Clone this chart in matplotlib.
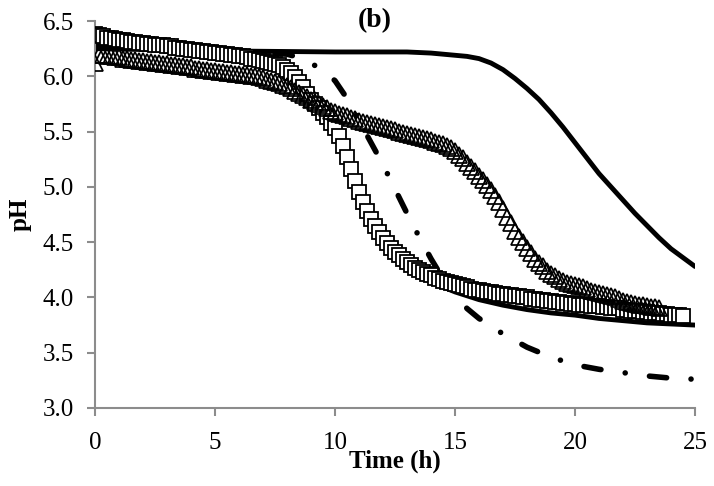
import numpy as np
import matplotlib
matplotlib.use("Agg")
import matplotlib.pyplot as plt

plt.rcParams['font.family'] = ['Liberation Serif', 'DejaVu Serif']

# Observed data (sampled every 10 min = 1/6 h)
ph_square = [
    6.38, 6.37, 6.36, 6.35, 6.35, 6.34,
    6.33, 6.33, 6.32, 6.31, 6.31, 6.30,
    6.30, 6.29, 6.29, 6.28, 6.28, 6.28,
    6.27, 6.27, 6.26, 6.26, 6.25, 6.25,
    6.24, 6.24, 6.23, 6.23, 6.22, 6.22,
    6.21, 6.21, 6.20, 6.20, 6.19, 6.19,
    6.18, 6.18, 6.17, 6.16, 6.16, 6.15,
    6.14, 6.13, 6.12, 6.11, 6.10, 6.08,
    6.06, 6.03, 5.99, 5.95, 5.90, 5.84,
    5.79, 5.75, 5.71, 5.67, 5.63, 5.58,
    5.53, 5.46, 5.37, 5.27, 5.16, 5.05,
    4.95, 4.86, 4.78, 4.71, 4.65, 4.59,
    4.54, 4.49, 4.45, 4.41, 4.38, 4.35,
    4.32, 4.29, 4.27, 4.25, 4.23, 4.21,
    4.20, 4.18, 4.17, 4.15, 4.14, 4.13,
    4.12, 4.11, 4.10, 4.09, 4.08, 4.07,
    4.07, 4.06, 4.05, 4.05, 4.04, 4.03,
    4.03, 4.02, 4.02, 4.01, 4.01, 4.00,
    4.00, 3.99, 3.99, 3.98, 3.98, 3.97,
    3.97, 3.96, 3.96, 3.95, 3.95, 3.94,
    3.94, 3.93, 3.93, 3.93, 3.92, 3.92,
    3.92, 3.91, 3.91, 3.90, 3.90, 3.90,
    3.89, 3.89, 3.88, 3.88, 3.88, 3.87,
    3.87, 3.86, 3.86, 3.86, 3.85, 3.85,
    3.84, 3.84, 3.84, 3.83,
]

ph_triangle = [
    6.12, 6.19, 6.19, 6.18, 6.18, 6.17,
    6.17, 6.16, 6.16, 6.15, 6.15, 6.14,
    6.14, 6.13, 6.13, 6.12, 6.12, 6.11,
    6.11, 6.10, 6.10, 6.09, 6.09, 6.08,
    6.08, 6.07, 6.07, 6.06, 6.06, 6.05,
    6.05, 6.04, 6.04, 6.03, 6.03, 6.02,
    6.02, 6.01, 6.01, 6.00, 6.00, 5.99,
    5.98, 5.97, 5.96, 5.95, 5.94, 5.92,
    5.91, 5.89, 5.87, 5.85, 5.83, 5.81,
    5.79, 5.77, 5.75, 5.73, 5.71, 5.69,
    5.68, 5.66, 5.65, 5.64, 5.62, 5.61,
    5.60, 5.59, 5.58, 5.57, 5.56, 5.55,
    5.54, 5.53, 5.52, 5.51, 5.50, 5.49,
    5.48, 5.47, 5.46, 5.45, 5.44, 5.43,
    5.42, 5.41, 5.40, 5.39, 5.37, 5.35,
    5.32, 5.29, 5.26, 5.22, 5.18, 5.14,
    5.10, 5.06, 5.02, 4.97, 4.92, 4.86,
    4.80, 4.73, 4.67, 4.60, 4.55, 4.50,
    4.45, 4.40, 4.35, 4.31, 4.28, 4.24,
    4.21, 4.19, 4.17, 4.15, 4.13, 4.12,
    4.11, 4.10, 4.09, 4.08, 4.06, 4.05,
    4.04, 4.03, 4.02, 4.01, 4.00, 3.99,
    3.97, 3.96, 3.95, 3.94, 3.93, 3.93,
    3.92, 3.91, 3.91, 3.90,
]

# Model curves
t_model_late = [0, 5, 10, 13, 14, 15, 15.5, 16, 16.5, 17, 17.5, 18, 18.5, 19, 19.5,
                20, 20.5, 21, 21.5, 22, 22.5, 23, 23.5, 24, 24.5, 25]
ph_model_late = [6.25, 6.23, 6.22, 6.22, 6.21, 6.19, 6.18, 6.16, 6.12, 6.06, 5.98, 5.89,
                 5.79, 5.67, 5.54, 5.40, 5.26, 5.12, 5.00, 4.88, 4.76, 4.65, 4.54,
                 4.44, 4.36, 4.28]

t_model_square = [0, 5, 8, 8.5, 9, 9.5, 10, 10.5, 11, 11.5, 12, 12.5, 13, 13.5, 14,
                  15, 16, 17, 18, 19, 20, 21, 22, 23, 24, 25]
ph_model_square = [6.28, 6.20, 6.08, 6.00, 5.88, 5.72, 5.50, 5.22, 4.92, 4.68, 4.50,
                   4.38, 4.28, 4.20, 4.14, 4.05, 3.98, 3.93, 3.89, 3.86, 3.84, 3.81,
                   3.79, 3.77, 3.76, 3.75]

t_model_dash = [0, 5, 8, 8.5, 9, 9.5, 10, 10.5, 11, 11.5, 12, 12.5, 13, 13.5, 14, 14.5,
                15, 15.5, 16, 17, 18, 19, 20, 21, 22, 23, 24, 25]
ph_model_dash = [6.26, 6.23, 6.20, 6.17, 6.12, 6.05, 5.96, 5.80, 5.60, 5.40, 5.20,
                 4.98, 4.76, 4.55, 4.35, 4.17, 4.02, 3.90, 3.81, 3.67, 3.55, 3.46,
                 3.39, 3.35, 3.32, 3.29, 3.27, 3.26]

x_ticks = [0, 5, 10, 15, 20, 25]
y_ticks = [3.0, 3.5, 4.0, 4.5, 5.0, 5.5, 6.0, 6.5]

t_square = np.arange(len(ph_square)) / 6.0
t_triangle = np.arange(len(ph_triangle)) / 6.0

fig = plt.figure(figsize=(7.14, 4.86), dpi=100)
ax = fig.add_axes([95 / 714, 1 - 408 / 486, 600 / 714, 387 / 486])
ax.set_xlim(0, 25)
ax.set_ylim(3.0, 6.5)

ax.plot(t_model_late, ph_model_late, color='black', lw=3.5, solid_capstyle='round',
        zorder=2)
ax.plot(t_model_square, ph_model_square, color='black', lw=3.5,
        solid_capstyle='round', zorder=2)

# dash-dot line: align the pattern phase so a dot falls near t = 16.9 h
dash_lw = 4.0
pattern = (3.1, 4.4, 0.01, 4.4)
period = sum(pattern)
pts = ax.transData.transform(np.column_stack([t_model_dash, ph_model_dash]))
seg = np.hypot(np.diff(pts[:, 0]), np.diff(pts[:, 1]))
cum = np.concatenate([[0], np.cumsum(seg)])
s_target_px = np.interp(16.9, t_model_dash, cum)
s_target = s_target_px * 72 / fig.dpi / dash_lw
dot_phase = pattern[0] + pattern[1] + 0.005
offset = (dot_phase - s_target) % period
ax.plot(t_model_dash, ph_model_dash, color='black', lw=dash_lw,
        linestyle=(offset, pattern), dash_capstyle='round', zorder=2.5)

ax.plot(t_square, ph_square, linestyle='none', marker='s', markersize=10.3,
        markerfacecolor='white', markeredgecolor='black', markeredgewidth=1.3,
        zorder=3)
ax.plot(t_triangle, ph_triangle, linestyle='none', marker='^', markersize=11,
        markerfacecolor='none', markeredgecolor='black', markeredgewidth=1.25,
        zorder=4)

ax.set_xticks(x_ticks)
ax.set_yticks(y_ticks)
ax.set_xticklabels([str(v) for v in x_ticks])
ax.set_yticklabels([f"{v:.1f}" for v in y_ticks])

for s in ['top', 'right']:
    ax.spines[s].set_visible(False)
for s in ['left', 'bottom']:
    ax.spines[s].set_color('#8c8c8c')
    ax.spines[s].set_linewidth(1.5)
ax.tick_params(axis='both', direction='out', length=6, width=1.5, color='#8c8c8c',
               labelsize=18, labelcolor='black')
ax.tick_params(axis='y', pad=9)
ax.tick_params(axis='x', pad=11)

ax.set_xlabel('Time (h)', fontsize=18, fontweight='bold', labelpad=-3)
ax.set_ylabel('pH', fontsize=18, fontweight='bold', labelpad=8)
ax.text(0.467, 1.0, '(b)', transform=ax.transAxes, ha='center', va='center',
        fontsize=20, fontweight='bold')

fig.savefig('out.png', dpi=100)
